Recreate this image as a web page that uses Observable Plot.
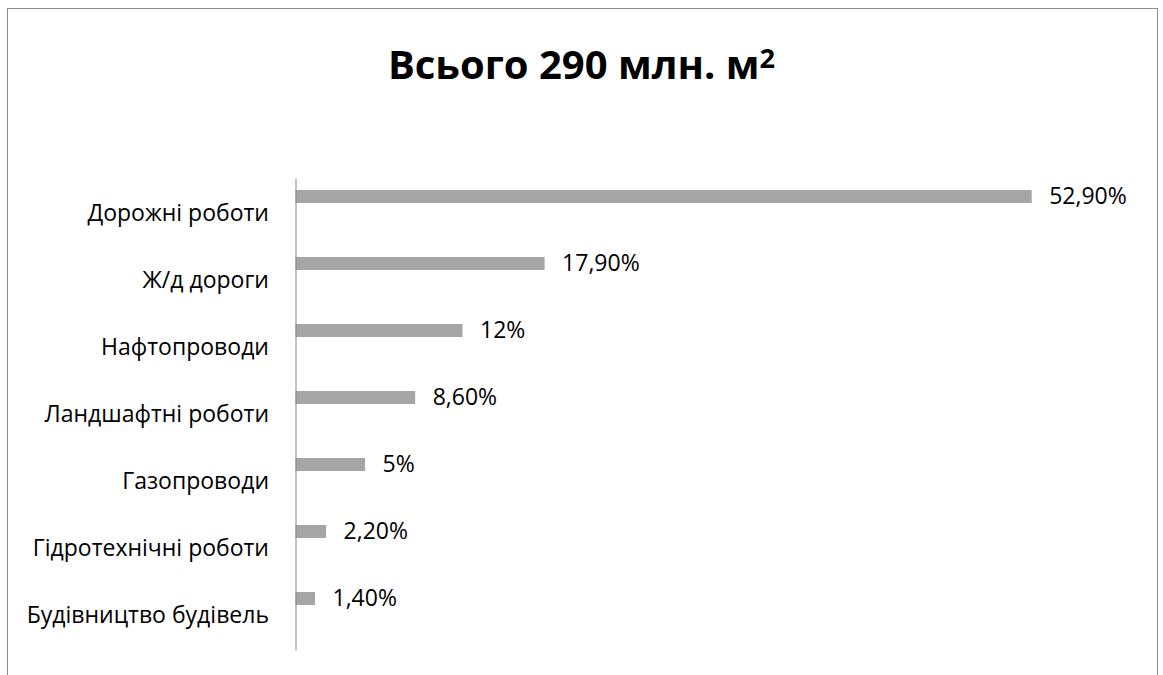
<!DOCTYPE html>
<html>
<head>
<meta charset="utf-8">
<script src="https://cdn.jsdelivr.net/npm/d3@7"></script>
<script src="https://cdn.jsdelivr.net/npm/@observablehq/plot@0.6"></script>
<style>
  html, body { margin: 0; padding: 0; background: #fff; width: 1163px; height: 675px; overflow: hidden; }
  #frame { position: absolute; left: 7px; top: 8px; width: 1151px; height: 720px; border: 1px solid #8c8c8c; box-sizing: border-box; }
  #title { position: absolute; left: 0; top: 44px; width: 1163px; text-align: center; font-family: "Open Sans", sans-serif; font-weight: bold; font-size: 40px; line-height: 40px; color: #000; white-space: nowrap; }
  #title sup { font-size: 0.68em; vertical-align: 0.4em; line-height: 0; }
  #chart { position: absolute; left: 0; top: 0; }
  #chart svg { background: transparent; }
</style>
</head>
<body>
<div id="frame"></div>
<div id="title">Всього 290 млн. м<sup>2</sup></div>
<div id="chart"></div>
<script>
const categories = ["Дорожні роботи", "Ж/д дороги", "Нафтопроводи", "Ландшафтні роботи", "Газопроводи", "Гідротехнічні роботи", "Будівництво будівель"];
const values = [52.9, 17.9, 12, 8.6, 5, 2.2, 1.4];
const valueLabels = ["52,90%", "17,90%", "12%", "8,60%", "5%", "2,20%", "1,40%"];

const data = categories.map((c, i) => ({category: c, value: values[i], label: valueLabels[i]}));

const plot = Plot.plot({
  width: 1163,
  height: 675,
  marginTop: 179,
  marginBottom: 24.5,
  marginLeft: 295.5,
  marginRight: 32.5,
  style: {background: "transparent", fontFamily: "'Open Sans', sans-serif", fontSize: "23px", color: "#000"},
  x: {domain: [0, 60], axis: null},
  y: {domain: categories, padding: 0, label: null, tickSize: 0, tickPadding: 27},
  marks: [
    Plot.barX(data, {x: "value", y: "category", fill: "#a5a5a5", insetTop: 10, insetBottom: 44}),
    Plot.ruleX([0], {stroke: "#868686", strokeWidth: 1}),
    Plot.text(data, {x: "value", y: "category", text: "label", textAnchor: "start", dx: 17, dy: -17, fontSize: 23, fill: "#000"})
  ]
});
document.getElementById("chart").appendChild(plot);
</script>
</body>
</html>
